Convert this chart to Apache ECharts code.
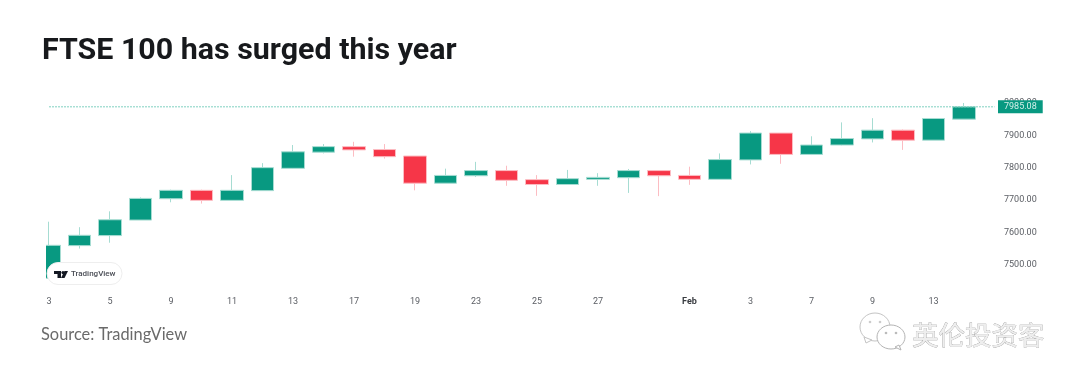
<!DOCTYPE html>
<html>
<head>
<meta charset="utf-8">
<style>
  html, body { margin: 0; padding: 0; background: #fff; }
  #chart { width: 1080px; height: 382px; }
</style>
<script src="https://cdn.jsdelivr.net/npm/echarts@6/dist/echarts.min.js"></script>
</head>
<body>
<div id="chart"></div>
<script>
// trading days, Jan 3 - Feb 14, last blank slot is room for the price tag
const categories = ["3","4","5","6","9","10","11","12","13","16","17","18","19","20","23","24","25","26","27","30","31","Feb","2","3","6","7","8","9","10","13","14",""];
const shownLabels = ["0","2","4","6","8","10","12","14","16","18","21","23","25","27","29"];
const opens  = [7455,7556,7587,7635,7701,7727,7696,7726,7795,7845,7862,7853,7833,7749,7772,7788,7760,7745,7761,7766,7788,7773,7761,7821,7904,7838,7867,7886,7913,7882,7947];
const closes = [7557,7588,7636,7702,7727,7696,7727,7797,7846,7862,7852,7831,7749,7773,7788,7758,7745,7763,7767,7788,7772,7761,7822,7904,7838,7867,7887,7913,7882,7949,7985.08];
const lows   = [7455,7547,7565,7635,7690,7686,7696,7726,7793,7841,7831,7825,7727,7749,7768,7741,7710,7745,7741,7719,7709,7744,7761,7807,7809,7836,7866,7875,7852,7882,7947];
const highs  = [7630,7613,7662,7705,7729,7729,7774,7811,7867,7870,7877,7870,7833,7794,7815,7803,7774,7790,7780,7793,7788,7800,7841,7910,7904,7894,7937,7950,7915,7949,7997];
const lastPrice = 7985.08;

const UP = "#089981";
const DOWN = "#f63648";
const AXIS_FONT = "Roboto, sans-serif";

const candles = opens.map((o, i) => [o, closes[i], lows[i], highs[i]]);
const priceLevel = categories.map(() => lastPrice);

const chart = echarts.init(document.getElementById("chart"), null, { renderer: "canvas" });
chart.setOption({
  animation: false,
  backgroundColor: "#fff",
  title: [
    {
      text: "FTSE 100 has surged this year",
      left: 42,
      top: 36,
      padding: 0,
      textStyle: { color: "#17191c", fontFamily: "Roboto, sans-serif", fontWeight: "bold", fontSize: 30.4 }
    },
    {
      text: "Source: TradingView",
      left: 41,
      top: 327,
      padding: 0,
      textStyle: { color: "#6a6a6a", fontFamily: "Lato, sans-serif", fontWeight: "normal", fontSize: 16.4 }
    }
  ],
  grid: { left: 33.75, top: 69.65, width: 976, height: 226.45 },
  xAxis: {
    type: "category",
    data: categories,
    axisLine: { show: false },
    axisTick: { show: false },
    splitLine: { show: false },
    axisLabel: {
      interval: (idx) => shownLabels.includes(String(idx)),
      margin: 1,
      color: "#5a5d63",
      fontFamily: AXIS_FONT,
      fontSize: 9,
      formatter: (v) => (v === "Feb" ? "{b|Feb}" : v),
      rich: { b: { fontWeight: "bold", color: "#3a3d42", fontSize: 9, fontFamily: AXIS_FONT } }
    }
  },
  yAxis: {
    type: "value",
    position: "right",
    min: 7400,
    max: 8100,
    interval: 100,
    axisLine: { show: false },
    axisTick: { show: false },
    splitLine: { show: false },
    axisLabel: {
      showMinLabel: false,
      showMaxLabel: false,
      margin: -5.75,
      formatter: (v) => "{p|" + v.toFixed(2) + "}",
      rich: { p: { color: "#5a5d63", fontFamily: AXIS_FONT, fontSize: 9, padding: [2, 0, 0, 0] } }
    }
  },
  series: [
    {
      type: "candlestick",
      data: candles,
      barWidth: 23,
      itemStyle: {
        color: UP,
        color0: DOWN,
        borderColor: "#a6dcd2",
        borderColor0: "#fcbcc2",
        borderWidth: 1
      }
    },
    {
      type: "line",
      data: priceLevel,
      symbol: "none",
      silent: true,
      itemStyle: { color: "#7fd0c0" },
      lineStyle: { type: [2, 1], color: "#7fd0c0", width: 1 },
      endLabel: {
        show: true,
        distance: 3.5,
        formatter: () => lastPrice.toFixed(2),
        color: "#d5f0ea",
        backgroundColor: UP,
        fontFamily: AXIS_FONT,
        fontSize: 9,
        padding: [2, 6, 2, 6]
      }
    }
  ],
  graphic: [
    // chart area starts at x=46, first candle is cut off there
    { type: "rect", z: 50, shape: { x: 30, y: 95, width: 16, height: 200 }, style: { fill: "#fff" } },
    // TradingView badge
    { type: "rect", z: 60, shape: { x: 47, y: 262.5, width: 75, height: 22, r: 11 }, style: { fill: "#fff", stroke: "#eeeeee" } },
    { type: "polygon", z: 61, shape: { points: [[54,271],[61,271],[61,278],[57.5,278],[57.5,274],[54,274]] }, style: { fill: "#131722" } },
    { type: "circle", z: 61, shape: { cx: 63, cy: 272.6, r: 1.6 }, style: { fill: "#131722" } },
    { type: "polygon", z: 61, shape: { points: [[61,278],[64.5,271],[68,271],[64.5,278]] }, style: { fill: "#131722" } },
    { type: "text", z: 61, style: { x: 71, y: 273.5, text: "TradingView", fill: "#4a4d55", font: "500 8px Roboto, sans-serif", verticalAlign: "middle" } },
    // watermark
    { type: "ellipse", z: 5, shape: { cx: 875, cy: 327, rx: 15, ry: 14 }, style: { fill: "#fff", stroke: "#c4c4c4", lineWidth: 1 } },
    { type: "polygon", z: 5, shape: { points: [[864,337],[866,343],[872,340]] }, style: { fill: "#fff", stroke: "#c4c4c4" } },
    { type: "ellipse", z: 6, shape: { cx: 891, cy: 337, rx: 14, ry: 12 }, style: { fill: "#fff", stroke: "#b4b4b4", lineWidth: 1 } },
    { type: "polygon", z: 6, shape: { points: [[895,347],[901,350],[899,345]] }, style: { fill: "#fff", stroke: "#b4b4b4" } },
    { type: "circle", z: 7, shape: { cx: 886, cy: 333, r: 1.3 }, style: { fill: "#bbb" } },
    { type: "circle", z: 7, shape: { cx: 896, cy: 333, r: 1.3 }, style: { fill: "#bbb" } },
    { type: "circle", z: 7, shape: { cx: 870, cy: 322, r: 1.3 }, style: { fill: "#ccc" } },
    { type: "circle", z: 7, shape: { cx: 880, cy: 322, r: 1.3 }, style: { fill: "#ccc" } },
    { type: "text", z: 6, style: { x: 912, y: 334.5, text: "英伦投资客", fill: "#eeeeee", stroke: "#8c8c8c", lineWidth: 0.5, font: "26.5px 'Noto Sans CJK SC', sans-serif", verticalAlign: "middle" } }
  ]
});
</script>
</body>
</html>
